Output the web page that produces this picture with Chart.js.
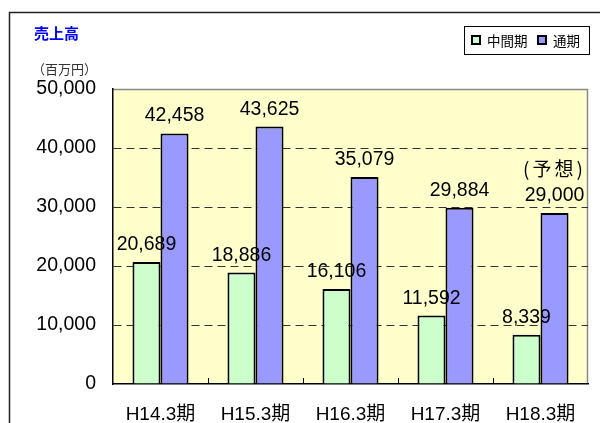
<!DOCTYPE html>
<html>
<head>
<meta charset="utf-8">
<script src="https://cdn.jsdelivr.net/npm/chart.js@4.4.1/dist/chart.umd.min.js"></script>
<style>
  html, body { margin: 0; padding: 0; background: #fff; overflow: hidden; }
  #box { position: relative; width: 600px; height: 423px; }
</style>
</head>
<body>
<div id="box"><canvas id="sales"></canvas></div>
<script>
// 売上高（百万円）
const periods = ['H14.3期', 'H15.3期', 'H16.3期', 'H17.3期', 'H18.3期'];
const interimSales = [20689, 18886, 16106, 11592, 8339];
const fullYearSales = [42458, 43625, 35079, 29884, 29000];
const fullYearNotes = ['', '', '', '', '(予想)'];
const legendNames = ['中間期', '通期'];

const FONT = "'Liberation Sans', Arial, 'Noto Sans CJK JP', sans-serif";
const JP = "'Noto Sans CJK JP', 'Liberation Sans', sans-serif";
const GREEN = '#CCFFCC';
const BLUE = '#9999FF';

// plot background, outer frame, title, legend
const decorations = {
  id: 'decorations',
  beforeDraw(chart) {
    const { ctx, chartArea: a } = chart;
    ctx.save();
    // outer frame (runs off the picture to the right / bottom)
    ctx.strokeStyle = '#222';
    ctx.lineWidth = 1.5;
    ctx.strokeRect(9.5, 12.5, 800, 600);
    // plot area
    ctx.fillStyle = '#FFFFCC';
    ctx.fillRect(a.left, a.top, a.right - a.left, a.bottom - a.top);
    ctx.strokeStyle = '#8a8a8a';
    ctx.beginPath();
    ctx.moveTo(a.left, a.top + 0.5);
    ctx.lineTo(a.right - 0.5, a.top + 0.5);
    ctx.lineTo(a.right - 0.5, a.bottom);
    ctx.stroke();

    ctx.fillStyle = '#0000FF';
    ctx.font = 'bold 15px ' + JP;
    ctx.textBaseline = 'middle';
    ctx.fillText('売上高', 34, 33);
    ctx.fillStyle = '#333';
    ctx.font = '13px ' + JP;
    ctx.fillText('（百万円）', 32, 69);

    // legend
    ctx.strokeStyle = '#000';
    ctx.lineWidth = 1;
    ctx.strokeRect(464.5, 26.5, 125, 28);
    const items = [[472, GREEN, legendNames[0]], [538, BLUE, legendNames[1]]];
    items.forEach(([x, col, name]) => {
      ctx.fillStyle = col;
      ctx.fillRect(x, 36, 8, 8);
      ctx.lineWidth = 2;
      ctx.strokeRect(x, 36, 8, 8);
      ctx.fillStyle = '#000';
      ctx.font = '13.5px ' + JP;
      ctx.fillText(name, x + 15, 40.5);
    });
    ctx.restore();
  },
  afterDatasetsDraw(chart) {
    const { ctx, chartArea: a } = chart;
    const xs = chart.scales.x;
    ctx.save();
    // small inward tick marks between categories
    ctx.strokeStyle = '#000';
    ctx.lineWidth = 1;
    for (let i = 1; i < periods.length; i++) {
      const px = Math.round((xs.getPixelForValue(i - 1) + xs.getPixelForValue(i)) / 2) + 0.5;
      ctx.beginPath();
      ctx.moveTo(px, a.bottom);
      ctx.lineTo(px, a.bottom - 6);
      ctx.stroke();
    }
    // value labels
    ctx.fillStyle = '#000';
    ctx.textAlign = 'center';
    ctx.textBaseline = 'alphabetic';
    chart.data.datasets.forEach((ds, di) => {
      chart.getDatasetMeta(di).data.forEach((bar, j) => {
        ctx.font = '19.5px ' + FONT;
        ctx.letterSpacing = '0px';
        ctx.fillText(ds.data[j].toLocaleString('en-US'), bar.x, bar.y - 12);
        if (di === 1 && fullYearNotes[j]) {
          ctx.font = '19px ' + JP;
          ctx.letterSpacing = '3px';
          ctx.fillText(fullYearNotes[j], bar.x, bar.y - 37);
        }
      });
    });
    ctx.restore();
  }
};

new Chart(document.getElementById('sales'), {
  type: 'bar',
  data: {
    labels: periods,
    datasets: [
      { label: legendNames[0], data: interimSales, backgroundColor: GREEN },
      { label: legendNames[1], data: fullYearSales, backgroundColor: BLUE }
    ]
  },
  options: {
    responsive: true,
    maintainAspectRatio: false,
    animation: false,
    layout: { padding: { top: 89, right: 12, left: 0, bottom: 0 } },
    datasets: {
      bar: {
        borderColor: '#000',
        borderWidth: 2,
        categoryPercentage: 0.59,
        barPercentage: 1
      }
    },
    plugins: { legend: { display: false }, tooltip: { enabled: false } },
    scales: {
      x: {
        grid: { display: false, drawTicks: false },
        border: { color: '#000', width: 1.5 },
        ticks: { color: '#000', padding: 19, font: { family: FONT, size: 19 } },
        afterFit(s) { s.height = 39; }
      },
      y: {
        min: 0,
        max: 50000,
        ticks: {
          stepSize: 10000,
          color: '#000',
          padding: 17,
          font: { family: FONT, size: 19.5 },
          callback: v => v.toLocaleString('en-US')
        },
        grid: {
          drawTicks: false,
          lineWidth: 1,
          color: c => (c.tick.value === 0 || c.tick.value === 50000) ? 'rgba(0,0,0,0)' : '#333'
        },
        border: { color: '#000', width: 1.5, dash: [8, 5] },
        afterFit(s) { s.width = 113; }
      }
    }
  },
  plugins: [decorations]
});
</script>
</body>
</html>
